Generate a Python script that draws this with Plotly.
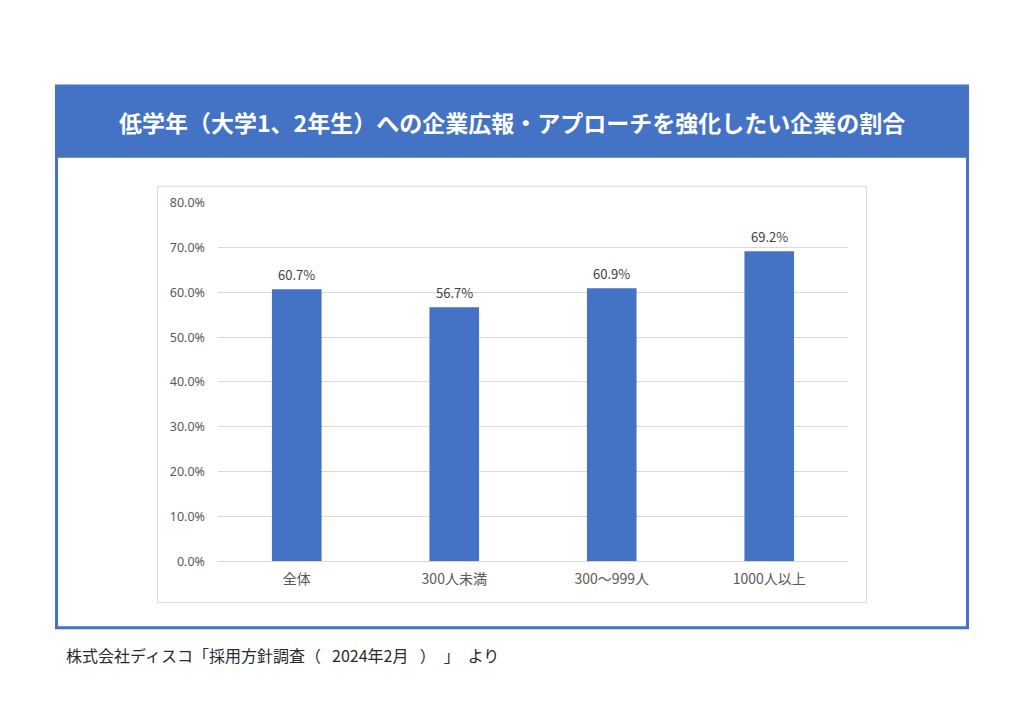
import plotly.graph_objects as go

categories = ["全体", "300人未満", "300～999人", "1000人以上"]
values = [60.7, 56.7, 60.9, 69.2]
y_ticks = [0, 10, 20, 30, 40, 50, 60, 70, 80]

title_text = "低学年（大学1、2年生）への企業広報・アプローチを強化したい企業の割合"
source_text = "株式会社ディスコ「採用方針調査（\u2002\u20092024年2月\u2002\u2009）\u2002」\u2002より"

W = 1024
BLUE = "#4472C4"
JP = "Noto Sans CJK JP"

# page pixel -> paper fraction
def px(x):
    return x / W

def py(y):
    return 1 - (y - 8) / 708

fig = go.Figure()
fig.add_trace(go.Bar(
    x=categories,
    y=values,
    marker=dict(color=BLUE, line=dict(width=0)),
    width=0.315,
    hoverinfo="skip",
))

shapes = [
    dict(type="rect", xref="paper", yref="paper",
         x0=px(56.5), x1=px(967.5), y0=py(627.5), y1=py(85),
         line=dict(color=BLUE, width=3), fillcolor="white", layer="below"),
    dict(type="rect", xref="paper", yref="paper",
         x0=px(55), x1=px(969), y0=py(157), y1=py(84),
         line=dict(width=0), fillcolor=BLUE, layer="below"),
    dict(type="rect", xref="paper", yref="paper",
         x0=px(157.5), x1=px(866.5), y0=py(602.5), y1=py(185.5),
         line=dict(color="#D9D9D9", width=1), fillcolor="white", layer="below"),
]

annotations = [
    dict(text=f"<b>{title_text}</b>", xref="paper", yref="paper",
         x=px(512), y=py(121), xanchor="center", yanchor="middle",
         showarrow=False, font=dict(family=JP, size=23, color="white")),
    dict(text=source_text, xref="paper", yref="paper",
         x=px(64), y=py(655), xanchor="left", yanchor="middle",
         showarrow=False, font=dict(family=JP, size=16, color="#2a2a2a")),
]
for c, v in zip(categories, values):
    annotations.append(dict(
        x=c, y=v, xref="x", yref="y", text=f"{v:.1f}%",
        showarrow=False, yanchor="middle", yshift=15,
        font=dict(family=JP, size=13, color="#404040"),
    ))

fig.update_layout(
    autosize=True,
    margin=dict(l=0, r=0, t=0, b=0),
    paper_bgcolor="white",
    plot_bgcolor="rgba(0,0,0,0)",
    showlegend=False,
    shapes=shapes,
    annotations=annotations,
    xaxis=dict(
        domain=[px(218), px(848)],
        showgrid=False, showline=False, zeroline=False,
        ticks="", tickfont=dict(family=JP, size=14, color="#595959"),
        ticklabelstandoff=8,
        fixedrange=True,
    ),
    yaxis=dict(
        domain=[py(561), py(202)],
        range=[0, 80],
        tickvals=y_ticks,
        ticktext=[f"{t:.1f}%" for t in y_ticks],
        showgrid=True, gridcolor="#D9D9D9", gridwidth=1,
        zeroline=True, zerolinecolor="#D9D9D9", zerolinewidth=1,
        showline=False, ticks="",
        tickfont=dict(family="Noto Sans", size=12.5, color="#595959"),
        ticklabelstandoff=12,
        fixedrange=True,
    ),
)

fig.write_html(
    "out.html",
    config={"displayModeBar": False, "responsive": True},
    default_width="100vw",
    default_height="100vh",
    post_script=(
        "document.documentElement.style.margin='0';"
        "document.body.style.margin='0';"
        "document.body.style.overflow='hidden';"
        "window.dispatchEvent(new Event('resize'));"
    ),
)
